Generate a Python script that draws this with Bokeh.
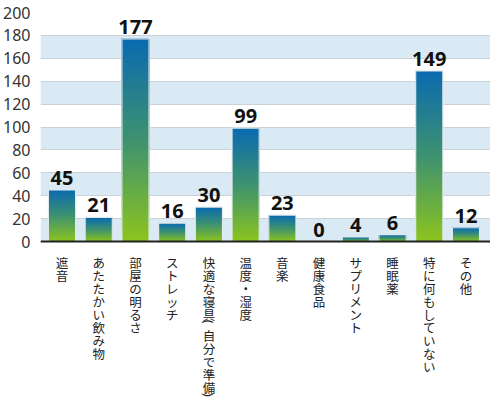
import math
import numpy as np
from bokeh.plotting import figure
from bokeh.models import Range1d, FixedTicker, ColumnDataSource
from bokeh.embed import file_html
from bokeh.resources import INLINE
from bokeh.core.properties import value

categories = ["遮音", "あたたかい飲み物", "部屋の明るさ", "ストレッチ",
              "快適な寝具（自分で準備）", "温度・湿度", "音楽", "健康食品",
              "サプリメント", "睡眠薬", "特に何もしていない", "その他"]
counts = [45, 21, 177, 16, 30, 99, 23, 0, 4, 6, 149, 12]
y_ticks = [0, 20, 40, 60, 80, 100, 120, 140, 160, 180, 200]

FONT = "Noto Sans"
CJK = "Noto Sans CJK JP"
BOTTOM_RGB = (140, 196, 30)
MID_RGB = (62, 146, 112)
TOP_RGB = (10, 106, 176)
BAR_W = 0.74
PX_PER_UNIT = 229 / 200.0
FIG_W, FIG_H = 490, 414
TOP = 12
FRAME_H = FIG_H - TOP
LABEL_TOP = 11      # px below the baseline
CHAR_ADV = 13.1     # vertical advance per character (px)
PAREN_ADV = 7.5     # advance for rotated parentheses
PARENS = {"（": "(", "）": ")"}


def grad(f):
    if f < 0.5:
        a, b, t = BOTTOM_RGB, MID_RGB, f / 0.5
    else:
        a, b, t = MID_RGB, TOP_RGB, (f - 0.5) / 0.5
    c = [int(round(a[k] + (b[k] - a[k]) * t)) for k in range(3)]
    return "#%02x%02x%02x" % tuple(c)


xs = list(range(len(categories)))

p = figure(width=FIG_W, height=FIG_H, output_backend="svg", toolbar_location=None,
           x_range=Range1d(-0.586, 11.668),
           y_range=Range1d(200 - FRAME_H / PX_PER_UNIT, 200),
           min_border_left=40, min_border_right=0, min_border_top=TOP,
           min_border_bottom=0)
p.outline_line_color = None
p.background_fill_color = "white"
p.xaxis.visible = False

# grid bands
p.xgrid.grid_line_color = None
p.ygrid.ticker = FixedTicker(ticks=y_ticks)
p.ygrid.grid_line_color = "#c9d2d8"
p.ygrid.grid_line_width = 1
p.ygrid.band_fill_color = "#d9eaf4"
p.ygrid.band_fill_alpha = 1.0

# gradient bars as stacked slices (each slice reaches the bar top; later ones cover)
N = 60
L, R, B, T, C = [], [], [], [], []
for x, v in zip(xs, counts):
    if v <= 0:
        continue
    for j in range(N):
        L.append(x - BAR_W / 2)
        R.append(x + BAR_W / 2)
        B.append(v * j / N)
        T.append(v)
        C.append(grad((j + 0.5) / N))
p.quad(left="l", right="r", bottom="b", top="t", fill_color="c", line_color=None,
       source=ColumnDataSource(dict(l=L, r=R, b=B, t=T, c=C)))

bars = ColumnDataSource(dict(x=xs, v=counts, lab=[str(c) for c in counts],
                             zero=[0] * len(xs),
                             l=[x - BAR_W / 2 for x in xs], r=[x + BAR_W / 2 for x in xs]))
p.quad(left="l", right="r", bottom="zero", top="v", fill_color=None,
       line_color="#e2e7ea", line_width=1.2, source=bars)

# baseline axis line
p.hspan(y=[0], line_color="#222222", line_width=2)

# value labels
p.text(x="x", y="v", text="lab", source=bars, text_align="center",
       text_baseline="bottom", y_offset=-5, text_font_size="20px",
       text_font_style="bold", text_font=value(FONT), text_color="#111111")

# vertical (tategaki) category labels, one character per glyph
cx, cy, ct, co = [], [], [], []
px_, py_, pt_ = [], [], []
for x, cat in zip(xs, categories):
    cum = 0.0
    for ch in cat:
        if ch in PARENS:
            px_.append(x)
            # place the rotated bracket's centre below the baseline (px -> data units)
            py_.append(-(LABEL_TOP + cum + PAREN_ADV / 2) / PX_PER_UNIT)
            pt_.append(PARENS[ch])
            cum += PAREN_ADV
        else:
            cx.append(x)
            cy.append(0)
            ct.append(ch)
            co.append(LABEL_TOP + cum)
            cum += CHAR_ADV
p.text(x="x", y="y", text="t", y_offset="o",
       source=ColumnDataSource(dict(x=cx, y=cy, t=ct, o=co)),
       text_align="center", text_baseline="top", text_font_size="12.5px",
       text_font=value(CJK), text_color="#222222")
p.text(x="x", y="y", text="t", angle=-math.pi / 2,
       source=ColumnDataSource(dict(x=px_, y=py_, t=pt_)),
       text_align="center", text_baseline="middle", text_font_size="13px",
       text_font=value(FONT), text_color="#222222")

# y axis
p.yaxis.ticker = FixedTicker(ticks=y_ticks)
p.yaxis.axis_line_color = None
p.yaxis.major_tick_line_color = None
p.yaxis.minor_tick_line_color = None
p.yaxis.major_label_text_font_size = "16px"
p.yaxis.major_label_text_font = FONT
p.yaxis.major_label_text_color = "#333333"
p.yaxis.major_label_standoff = 4

open("out.html", "w").write(file_html(p, INLINE))
